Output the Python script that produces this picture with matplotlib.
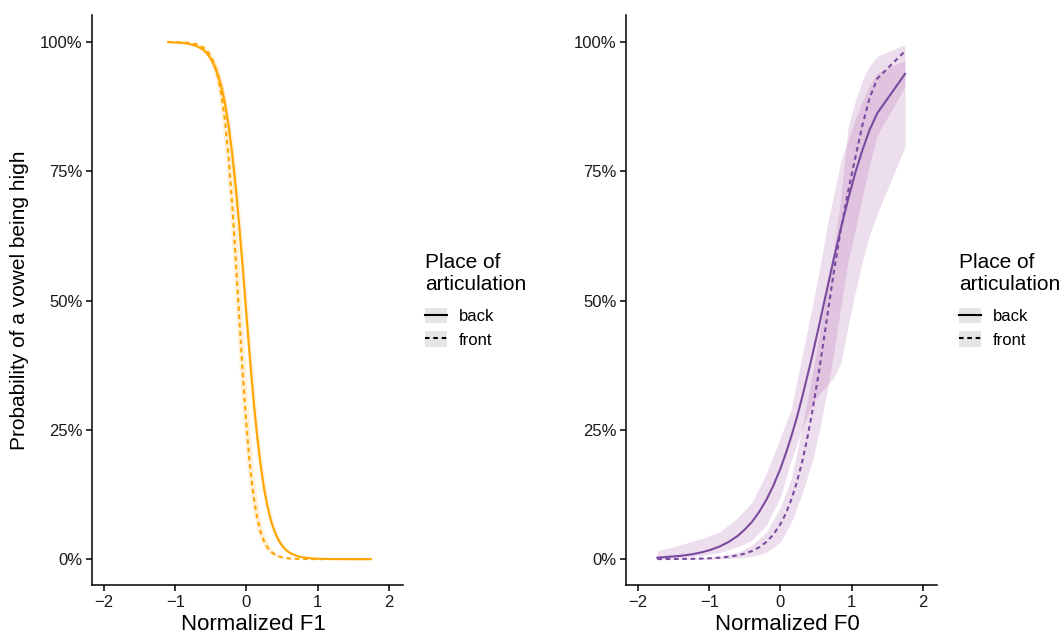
import numpy as np
import matplotlib
matplotlib.use("Agg")
import matplotlib.pyplot as plt
from matplotlib.lines import Line2D
from matplotlib.patches import Patch
from matplotlib.ticker import PercentFormatter

plt.rcParams["font.family"] = ["Liberation Sans", "DejaVu Sans"]
plt.rcParams["axes.unicode_minus"] = True

# --- left panel: Normalized F1 (orange) ---
f1_x = [-1.1, -0.9, -0.8, -0.7, -0.65, -0.6, -0.55, -0.5, -0.45, -0.4, -0.35, -0.3, -0.25,
        -0.2, -0.15, -0.1, -0.05, 0.0, 0.05, 0.1, 0.15, 0.2, 0.25, 0.3, 0.35, 0.4, 0.45,
        0.5, 0.55, 0.6, 0.65, 0.7, 0.75, 0.8, 0.9, 1.0, 1.2, 1.5, 1.75]
f1_back = [0.9995, 0.998, 0.996, 0.992, 0.9883, 0.984, 0.9768, 0.967, 0.9544, 0.936, 0.912, 0.880,
           0.8376, 0.784, 0.719, 0.643, 0.560, 0.472, 0.3865, 0.307, 0.2383, 0.181, 0.1345, 0.099,
           0.0716, 0.052, 0.0369, 0.026, 0.0187, 0.013, 0.0094, 0.0066, 0.0047, 0.0033, 0.0016,
           0.0008, 0.0002, 0.0, 0.0]
f1_back_lo = [0.9994, 0.9975, 0.9949, 0.9899, 0.9856, 0.9798, 0.9715, 0.960, 0.9441, 0.923, 0.8936,
              0.856, 0.8066, 0.746, 0.6744, 0.594, 0.507, 0.421, 0.338, 0.265, 0.2023, 0.152, 0.1119,
              0.082, 0.0588, 0.042, 0.0301, 0.021, 0.0152, 0.011, 0.0076, 0.005, 0.0038, 0.003,
              0.0013, 0.0006, 0.0001, 0.0, 0.0]
f1_back_hi = [0.9996, 0.9983, 0.9967, 0.9933, 0.9905, 0.9866, 0.9811, 0.9734, 0.9626, 0.948, 0.9274,
              0.900, 0.8639, 0.818, 0.7591, 0.690, 0.6102, 0.524, 0.4373, 0.354, 0.2785, 0.214, 0.1609,
              0.119, 0.0869, 0.063, 0.0452, 0.032, 0.0229, 0.016, 0.0115, 0.008, 0.0058, 0.004,
              0.002, 0.001, 0.0003, 0.0, 0.0]
f1_front = [0.9999, 0.9993, 0.998, 0.9954, 0.9928, 0.9886, 0.9820, 0.972, 0.9562, 0.932, 0.8967,
            0.846, 0.7759, 0.686, 0.5798, 0.466, 0.3548, 0.258, 0.1797, 0.122, 0.0803, 0.052, 0.0336,
            0.0215, 0.0137, 0.0087, 0.0055, 0.0035, 0.0022, 0.0014, 0.0009, 0.0005, 0.0003, 0.0002,
            0.0001, 0.0, 0.0, 0.0, 0.0]
f1_front_lo = [0.9998, 0.9989, 0.9972, 0.9931, 0.9891, 0.983, 0.9731, 0.958, 0.9351, 0.901, 0.8517,
               0.784, 0.6959, 0.591, 0.477, 0.366, 0.2666, 0.187, 0.1265, 0.084, 0.0546, 0.035,
               0.0225, 0.014, 0.0091, 0.006, 0.0037, 0.002, 0.0015, 0.001, 0.0006, 0.0003, 0.0002,
               0.0001, 0.0001, 0.0, 0.0, 0.0, 0.0]
f1_front_hi = [0.9999, 0.9995, 0.9988, 0.997, 0.9952, 0.9925, 0.9881, 0.981, 0.9706, 0.954, 0.9293,
               0.893, 0.8397, 0.768, 0.6761, 0.570, 0.4541, 0.344, 0.2490, 0.173, 0.1167, 0.077,
               0.0500, 0.032, 0.0205, 0.013, 0.0083, 0.005, 0.0033, 0.002, 0.0013, 0.0008, 0.0005,
               0.0003, 0.0002, 0.0, 0.0, 0.0, 0.0]

# --- right panel: Normalized F0 (purple) ---
f0_line_x = [-1.73, -1.4, -1.25, -1.1, -0.975, -0.85, -0.725, -0.6, -0.5, -0.4, -0.3, -0.2, -0.1,
             0.0, 0.075, 0.15, 0.225, 0.3, 0.375, 0.45, 0.55, 0.65, 0.75, 0.85, 0.95, 1.05, 1.15,
             1.25, 1.36, 1.75]
f0_back = [0.0028, 0.0064, 0.0092, 0.0134, 0.0182, 0.0247, 0.0335, 0.045, 0.0574, 0.072, 0.0911,
           0.114, 0.142, 0.175, 0.204, 0.236, 0.271, 0.310, 0.352, 0.395, 0.456, 0.519, 0.581,
           0.640, 0.695, 0.746, 0.790, 0.829, 0.862, 0.938]
f0_front = [0.0001, 0.0004, 0.0006, 0.0011, 0.0018, 0.0029, 0.0046, 0.0074, 0.0108, 0.0157, 0.0227,
            0.033, 0.0474, 0.068, 0.088, 0.114, 0.146, 0.185, 0.232, 0.287, 0.370, 0.462, 0.555,
            0.638, 0.710, 0.775, 0.838, 0.890, 0.929, 0.982]

f0_band_x = [-1.73, -1.4, -1.1, -0.85, -0.6, -0.4, -0.2, 0.0, 0.15, 0.3, 0.45, 0.55,
             0.65, 0.75, 0.85, 0.95, 1.05, 1.15, 1.25, 1.36, 1.75]
f0_back_lo = [0.0, 0.003, 0.007, 0.013, 0.024, 0.037, 0.065, 0.12, 0.19, 0.25, 0.30, 0.32,
              0.335, 0.35, 0.38, 0.45, 0.515, 0.575, 0.625, 0.668, 0.797]
f0_back_hi = [0.016, 0.028, 0.040, 0.053, 0.08, 0.11, 0.165, 0.235, 0.29, 0.39, 0.49, 0.56,
              0.64, 0.705, 0.77, 0.81, 0.85, 0.885, 0.915, 0.94, 0.964]
f0_front_lo = [0.0, 0.0, 0.0, 0.0005, 0.002, 0.005, 0.013, 0.033, 0.07, 0.125, 0.19, 0.25,
               0.32, 0.40, 0.49, 0.575, 0.635, 0.70, 0.76, 0.82, 0.913]
f0_front_hi = [0.001, 0.002, 0.003, 0.006, 0.013, 0.027, 0.052, 0.10, 0.155, 0.25, 0.36, 0.44,
               0.52, 0.60, 0.70, 0.835, 0.885, 0.925, 0.953, 0.972, 0.995]

x_ticks = [-2, -1, 0, 1, 2]
y_ticks = [0, 0.25, 0.5, 0.75, 1.0]

orange = "#FFA500"
purple = "#7A4A9F"
ribbon_purple = "#A85AA8"
dash = (0, (2.2, 1.8))

fig = plt.figure(figsize=(10.62, 6.35), dpi=100)
ax1 = fig.add_axes([92 / 1062, 50 / 635, 311 / 1062, 570 / 635])
ax2 = fig.add_axes([626 / 1062, 50 / 635, 311 / 1062, 570 / 635])

# ribbons + lines
ax1.fill_between(f1_x, f1_back_lo, f1_back_hi, color=orange, alpha=0.15, lw=0)
ax1.fill_between(f1_x, f1_front_lo, f1_front_hi, color=orange, alpha=0.15, lw=0)
ax1.plot(f1_x, f1_back, color=orange, lw=1.5)
ax1.plot(f1_x, f1_front, color=orange, lw=1.5, ls=dash)

ax2.fill_between(f0_band_x, f0_back_lo, f0_back_hi, color=ribbon_purple, alpha=0.2, lw=0)
ax2.fill_between(f0_band_x, f0_front_lo, f0_front_hi, color=ribbon_purple, alpha=0.2, lw=0)
ax2.plot(f0_line_x, f0_back, color=purple, lw=1.5)
ax2.plot(f0_line_x, f0_front, color=purple, lw=1.5, ls=dash)

for ax, xlab in [(ax1, "Normalized F1"), (ax2, "Normalized F0")]:
    ax.set_xlim(-2.17, 2.2)
    ax.set_ylim(-0.05, 1.052)
    ax.set_xticks(x_ticks)
    ax.set_yticks(y_ticks)
    ax.yaxis.set_major_formatter(PercentFormatter(1.0, decimals=0))
    ax.spines["top"].set_visible(False)
    ax.spines["right"].set_visible(False)
    ax.spines["left"].set_linewidth(1.1)
    ax.spines["bottom"].set_linewidth(1.1)
    ax.tick_params(direction="out", length=4, width=1.1, labelsize=12, colors="black",
                   labelcolor="#1a1a1a", pad=3)
    ax.set_xlabel(xlab, fontsize=16, labelpad=3, x=0.52)

ax1.set_ylabel("Probability of a vowel being high", fontsize=15, labelpad=8)

# legends
for x_anchor in [420 / 1062, 954 / 1062]:
    handles = [
        (Patch(facecolor="#E5E5E5", edgecolor="none"), Line2D([], [], color="black", lw=1.5)),
        (Patch(facecolor="#E5E5E5", edgecolor="none"), Line2D([], [], color="black", lw=1.5, ls=dash)),
    ]
    leg = fig.legend(handles, ["back", "front"], title="Place of\narticulation",
                     loc="upper left", bbox_to_anchor=(x_anchor, 1 - 248 / 635),
                     frameon=False, fontsize=12, title_fontsize=15, alignment="left",
                     handlelength=1.3, handleheight=1.05, handletextpad=0.75,
                     labelspacing=0.42, borderpad=0.3, borderaxespad=0)
    leg._legend_box.sep = 10

fig.savefig("out.png", dpi=100)
